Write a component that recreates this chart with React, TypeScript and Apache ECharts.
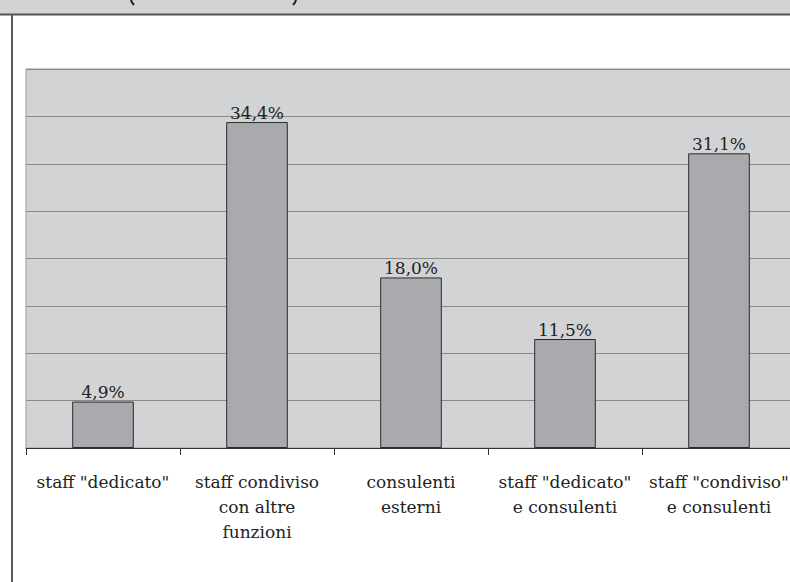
import React, { useEffect, useRef } from "react";
import * as echarts from "echarts";

const categories = [
  'staff "dedicato"',
  "staff condiviso\ncon altre\nfunzioni",
  "consulenti\nesterni",
  'staff "dedicato"\ne consulenti',
  'staff "condiviso"\ne consulenti',
];
const values = [4.9, 34.4, 18.0, 11.5, 31.1];
const yMax = 40;
const yInterval = 5;

const SERIF = "DejaVu Serif";

export default function App() {
  const ref = useRef<HTMLDivElement>(null);
  useEffect(() => {
    if (!ref.current) return;
    const chart = echarts.init(ref.current, null, { renderer: "svg" });
    chart.setOption({
      animation: false,
      backgroundColor: "#ffffff",
      textStyle: { fontFamily: SERIF },
      grid: {
        left: 26,
        top: 69,
        width: 770,
        height: 379,
        show: true,
        backgroundColor: "#d2d3d5",
        borderColor: "#9a9a9a",
        borderWidth: 1,
        containLabel: false,
      },
      xAxis: {
        type: "category",
        data: categories,
        boundaryGap: true,
        axisLine: { show: true, lineStyle: { color: "#333333", width: 1 } },
        axisTick: { show: true, alignWithLabel: false, length: 7, lineStyle: { color: "#333333" } },
        axisLabel: {
          interval: 0,
          color: "#222222",
          fontFamily: SERIF,
          fontSize: 17,
          lineHeight: 25,
          margin: 21,
        },
      },
      yAxis: {
        type: "value",
        min: 0,
        max: yMax,
        interval: yInterval,
        axisLine: { show: false },
        axisTick: { show: false },
        axisLabel: { show: false },
        splitLine: { show: true, lineStyle: { color: "#8a8a8a", width: 1 } },
      },
      series: [
        {
          type: "bar",
          data: values,
          barWidth: "40%",
          itemStyle: { color: "#a9aaad", borderColor: "#2a2a2a", borderWidth: 1 },
          label: {
            show: true,
            position: "top",
            distance: 1,
            color: "#222222",
            fontFamily: SERIF,
            fontSize: 17,
            formatter: (p: any) => p.value.toFixed(1).replace(".", ",") + "%",
          },
        },
      ],
      graphic: [
        {
          type: "rect",
          shape: { x: 0, y: 0, width: 820, height: 14 },
          style: { fill: "#d2d3d5" },
          silent: true,
        },
        {
          type: "line",
          shape: { x1: 0, y1: 14.5, x2: 820, y2: 14.5 },
          style: { stroke: "#555555", lineWidth: 2 },
        },
        {
          type: "line",
          shape: { x1: 12, y1: 14, x2: 12, y2: 582 },
          style: { stroke: "#5a5a5a", lineWidth: 2 },
        },
        {
          type: "bezierCurve",
          shape: { x1: 131, y1: 0, cpx1: 131.5, cpy1: 2.5, x2: 134, y2: 5 },
          style: { stroke: "#222", lineWidth: 2, fill: "none" },
        },
        {
          type: "bezierCurve",
          shape: { x1: 296, y1: 0, cpx1: 295.5, cpy1: 2.5, x2: 293, y2: 5 },
          style: { stroke: "#222", lineWidth: 2, fill: "none" },
        },
      ],
    });
    return () => chart.dispose();
  }, []);
  return (
    <div
      style={{
        position: "fixed",
        left: 0,
        top: 0,
        width: 790,
        height: 582,
        overflow: "hidden",
      }}
    >
      <div ref={ref} style={{ width: 820, height: 582 }} />
    </div>
  );
}
